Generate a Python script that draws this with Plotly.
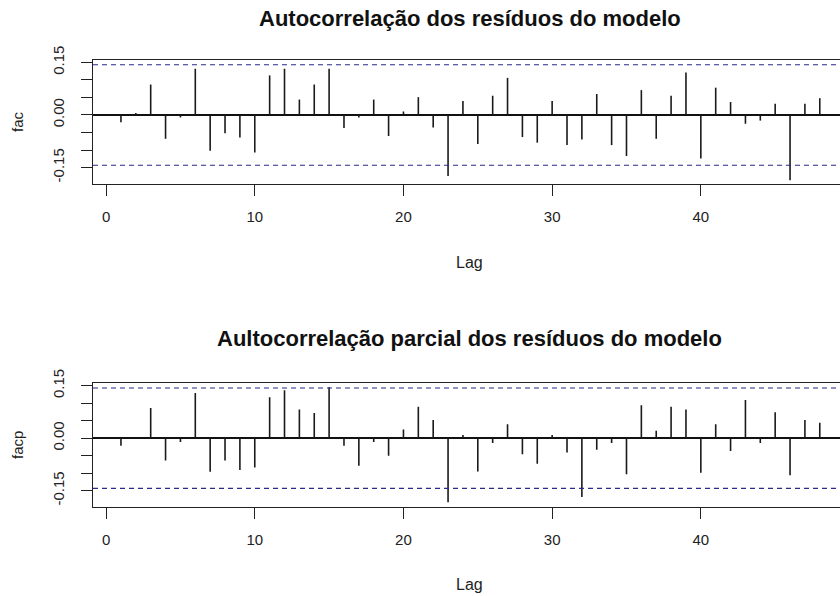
import plotly.graph_objects as go

# ---------------- data ----------------
lags = list(range(1, 49))
acf_vals = [-0.021, 0.006, 0.087, -0.068, -0.007, 0.132, -0.102, -0.052, -0.064, -0.107,
            0.113, 0.132, 0.044, 0.087, 0.132, -0.037, -0.007, 0.044, -0.060, 0.010,
            0.051, -0.036, -0.174, 0.040, -0.083, 0.055, 0.106, -0.063, -0.079, 0.040,
            -0.086, -0.070, 0.060, -0.086, -0.117, 0.071, -0.068, 0.055, 0.121, -0.124,
            0.078, 0.037, -0.025, -0.016, 0.032, -0.186, 0.032, 0.048]
pacf_vals = [-0.022, 0.003, 0.086, -0.064, -0.011, 0.129, -0.096, -0.064, -0.091, -0.084,
             0.117, 0.137, 0.082, 0.072, 0.146, -0.022, -0.079, -0.011, -0.050, 0.025,
             0.090, 0.052, -0.183, 0.009, -0.095, -0.014, 0.040, -0.046, -0.073, 0.009,
             -0.041, -0.168, -0.033, -0.014, -0.103, 0.094, 0.021, 0.090, 0.082, -0.099,
             0.040, -0.037, 0.109, -0.014, 0.074, -0.106, 0.052, 0.044]
ci = 0.1435
titles = ["Autocorrelação dos resíduos do modelo",
          "Aultocorrelação parcial dos resíduos do modelo"]
ylabels = ["fac", "facp"]
xlabel = "Lag"
xtick_vals = [0, 10, 20, 30, 40]
ytick_vals = [-0.15, -0.10, -0.05, 0.00, 0.05, 0.10, 0.15]
ytick_text = ["-0.15", "", "", "0.00", "", "", "0.15"]

# ---------------- layout helpers ----------------
W, H = 840, 596
L = 93       # left edge of plot area in px


def py(p):
    """pixel y -> paper fraction"""
    return 1 - p / H


def px(p):
    """pixel x -> paper fraction"""
    return (p - L) / (W - L)


panels = [
    dict(top=60, bot=184, yrange=[-0.197, 0.157], vals=acf_vals, title_dy=42),
    dict(top=383.3, bot=506.7, yrange=[-0.196, 0.157], vals=pacf_vals, title_dy=45),
]

FONT = "Liberation Sans, Arial, sans-serif"
fig = go.Figure()
annotations = []
shapes = []

for i, p in enumerate(panels):
    xa = "x" if i == 0 else "x2"
    ya = "y" if i == 0 else "y2"
    xs, ys = [], []
    for k, v in zip(lags, p["vals"]):
        xs += [k, k, None]
        ys += [0, v, None]
    fig.add_trace(go.Scatter(x=xs, y=ys, mode="lines", xaxis=xa, yaxis=ya,
                             line=dict(color="#1a1a1a", width=1.6),
                             hoverinfo="skip", showlegend=False))
    for s in (ci, -ci):
        shapes.append(dict(type="line", xref=f"{xa} domain", yref=ya,
                           x0=0, x1=1, y0=s, y1=s,
                           line=dict(color="#2a2a8a", width=1.2, dash="5px,4px")))
    dom = [py(p["bot"]), py(p["top"])]
    axis_common = dict(showgrid=False, showline=True, linecolor="#222", linewidth=1.2,
                       ticks="outside", ticklen=11, tickcolor="#222", tickwidth=1.2,
                       automargin=False,
                       tickfont=dict(family=FONT, size=15, color="#222"))
    fig.update_layout(**{
        ("xaxis" if i == 0 else "xaxis2"): dict(
            axis_common, domain=[0, 1], range=[-0.88, 49.36], mirror=True,
            tickvals=xtick_vals, ticklabelstandoff=8, zeroline=False,
            anchor=ya),
        ("yaxis" if i == 0 else "yaxis2"): dict(
            axis_common, domain=dom, range=p["yrange"], mirror=False,
            tickvals=ytick_vals, ticktext=ytick_text, tickangle=-90,
            ticklabelstandoff=11,
            zeroline=True, zerolinecolor="#111", zerolinewidth=1.5,
            anchor=xa),
    })
    # title
    annotations.append(dict(text=f"<b>{titles[i]}</b>", xref="paper", yref="paper",
                            x=px(470), y=py(p["top"] - p["title_dy"]),
                            xanchor="center", yanchor="middle",
                            showarrow=False, font=dict(family=FONT, size=22, color="#111")))
    # y label
    annotations.append(dict(text=ylabels[i], xref="paper", yref="paper",
                            x=px(18), y=(dom[0] + dom[1]) / 2, textangle=-90,
                            xanchor="center", yanchor="middle", showarrow=False,
                            font=dict(family=FONT, size=15, color="#222")))
    # x label
    annotations.append(dict(text=xlabel, xref="paper", yref="paper",
                            x=px(470), y=py(p["bot"] + 78), xanchor="center", yanchor="middle",
                            showarrow=False, font=dict(family=FONT, size=16, color="#222")))

fig.update_layout(width=W, height=H, margin=dict(l=L, r=0, t=0, b=0),
                  plot_bgcolor="white", paper_bgcolor="white",
                  annotations=annotations, shapes=shapes, showlegend=False)

# remove the default 8px page margin so the 840x596 figure fills the window exactly
fig.write_html("out.html",
               config={"displayModeBar": False},
               post_script="document.body.style.margin='0';document.body.style.overflow='hidden';")
